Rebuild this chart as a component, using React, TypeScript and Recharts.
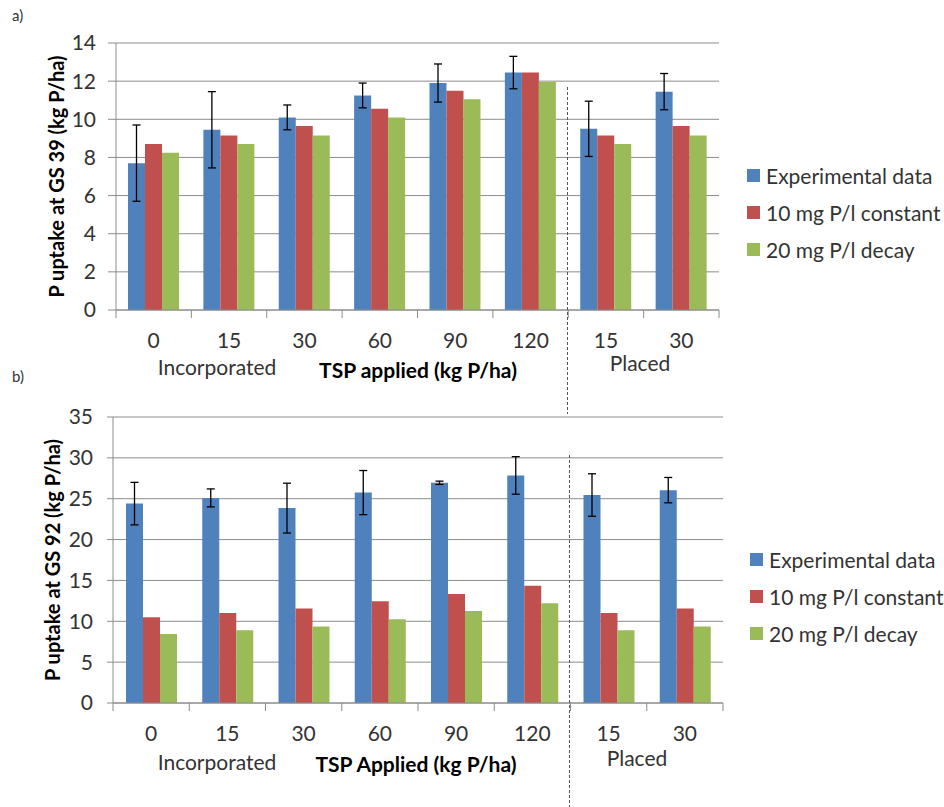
import { BarChart, Bar, XAxis, YAxis, CartesianGrid, ErrorBar, Legend } from 'recharts';

const categories = ['0', '15', '30', '60', '90', '120', '15', '30'];

// a) GS 39
const expGs39 = [7.7, 9.45, 10.1, 11.25, 11.9, 12.45, 9.5, 11.45];
const constGs39 = [8.7, 9.15, 9.65, 10.55, 11.5, 12.45, 9.15, 9.65];
const decayGs39 = [8.25, 8.7, 9.15, 10.1, 11.05, 11.95, 8.7, 9.15];
const errGs39 = [2.0, 2.0, 0.65, 0.65, 1.0, 0.85, 1.45, 0.95];

// b) GS 92
const expGs92 = [24.4, 25.1, 23.85, 25.75, 26.95, 27.85, 25.45, 26.05];
const constGs92 = [10.5, 11.0, 11.55, 12.45, 13.35, 14.35, 11.0, 11.55];
const decayGs92 = [8.45, 8.9, 9.35, 10.25, 11.25, 12.2, 8.9, 9.35];
const errGs92 = [2.6, 1.1, 3.05, 2.7, 0.2, 2.3, 2.6, 1.55];

const ticksGs39 = [0, 2, 4, 6, 8, 10, 12, 14];
const ticksGs92 = [0, 5, 10, 15, 20, 25, 30, 35];

const series = [
  { key: 'exp', name: 'Experimental data', color: '#4F81BD' },
  { key: 'const10', name: '10 mg P/l constant', color: '#C0504D' },
  { key: 'decay20', name: '20 mg P/l decay', color: '#9BBB59' },
];

const FONT = 'Lato, "Open Sans", sans-serif';
const TEXT = '#333333';
const GRID = '#8c8c8c';

const buildRows = (exp: number[], c: number[], d: number[], err: number[]) =>
  categories.map((tsp, i) => ({ tsp, exp: exp[i], const10: c[i], decay20: d[i], err: err[i] }));

const rowsA = buildRows(expGs39, constGs39, decayGs39, errGs39);
const rowsB = buildRows(expGs92, constGs92, decayGs92, errGs92);

function makeTick(band: number) {
  return (props: any) => {
    const { x, y, payload, index } = props;
    return (
      <g>
        <line x1={x - band / 2} y1={y} x2={x - band / 2} y2={y + 8} stroke={GRID} />
        {index === categories.length - 1 && (
          <line x1={x + band / 2} y1={y} x2={x + band / 2} y2={y + 8} stroke={GRID} />
        )}
        <text x={x} y={y + 29} textAnchor="middle" dominantBaseline="central" fontSize={21} fill={TEXT} fontFamily={FONT}>
          {payload.value}
        </text>
      </g>
    );
  };
}

function LegendBox() {
  return (
    <div style={{ fontFamily: FONT, fontSize: 21, color: TEXT }}>
      {series.map((s) => (
        <div key={s.key} style={{ display: 'flex', alignItems: 'center', height: 37 }}>
          <div style={{ width: 13, height: 13, background: s.color, marginRight: 6 }} />
          <span style={{ whiteSpace: 'nowrap' }}>{s.name}</span>
        </div>
      ))}
    </div>
  );
}

function Panel(props: {
  data: any[];
  top: number;
  height: number;
  margin: { top: number; right: number; bottom: number; left: number };
  max: number;
  ticks: number[];
  tickSize: number;
  tickMargin: number;
  title: string;
  titleDx: number;
  legendPos: { left: number; top: number };
}) {
  const { data, top, height, margin, max, ticks, tickSize, tickMargin, title, titleDx, legendPos } = props;
  const band = (944 - margin.left - 40 - margin.right) / categories.length;
  return (
    <div style={{ position: 'absolute', left: 0, top }}>
      <BarChart width={944} height={height} data={data} margin={margin} barGap={0} barSize={17}>
        <CartesianGrid vertical={false} stroke={GRID} />
        <XAxis
          dataKey="tsp"
          height={30}
          interval={0}
          tickSize={0}
          tickMargin={0}
          tickLine={false}
          axisLine={{ stroke: GRID }}
          tick={makeTick(band)}
        />
        <YAxis
          width={40}
          domain={[0, max]}
          ticks={ticks}
          interval={0}
          tickSize={tickSize}
          tickMargin={tickMargin}
          axisLine={{ stroke: GRID }}
          tickLine={{ stroke: GRID }}
          tick={{ fontSize: 21, fill: TEXT, fontFamily: FONT }}
          label={{
            value: title,
            angle: -90,
            position: 'center',
            dx: titleDx,
            style: { fontSize: 20, fontWeight: 700, fill: '#000', fontFamily: FONT },
          }}
        />
        <Legend
          layout="vertical"
          align="center"
          verticalAlign="middle"
          wrapperStyle={{ left: legendPos.left, top: legendPos.top, width: 200 }}
          content={() => <LegendBox />}
        />
        {series.map((s) => (
          <Bar key={s.key} dataKey={s.key} name={s.name} fill={s.color} isAnimationActive={false}>
            {s.key === 'exp' && <ErrorBar dataKey="err" width={4} stroke="#000" strokeWidth={1.3} />}
          </Bar>
        ))}
      </BarChart>
    </div>
  );
}

const groupLabel = (text: string, cx: number, cy: number, bold = false) => (
  <div
    style={{
      position: 'absolute',
      left: cx - 150,
      top: cy - 13,
      width: 300,
      height: 26,
      lineHeight: '26px',
      textAlign: 'center',
      fontFamily: FONT,
      fontSize: 21,
      fontWeight: bold ? 700 : 400,
      color: bold ? '#000' : TEXT,
      whiteSpace: 'nowrap',
    }}
  >
    {text}
  </div>
);

export default function App() {
  return (
    <div style={{ position: 'absolute', left: 0, top: 0, width: 944, height: 807, background: '#fff', overflow: 'hidden' }}>
      <div style={{ position: 'absolute', left: 12, top: 6, fontFamily: FONT, fontSize: 15, color: TEXT }}>a)</div>
      <div style={{ position: 'absolute', left: 12, top: 367, fontFamily: FONT, fontSize: 15, color: TEXT }}>b)</div>

      <Panel
        data={rowsA}
        top={0}
        height={400}
        margin={{ top: 43, right: 225, bottom: 60, left: 76 }}
        max={14}
        ticks={ticksGs39}
        tickSize={8}
        tickMargin={12}
        title="P uptake at GS 39 (kg P/ha)"
        titleDx={-39}
        legendPos={{ left: 747, top: 157 }}
      />
      <Panel
        data={rowsB}
        top={400}
        height={407}
        margin={{ top: 17, right: 221, bottom: 74, left: 73 }}
        max={35}
        ticks={ticksGs92}
        tickSize={6}
        tickMargin={14}
        title="P uptake at GS 92 (kg P/ha)"
        titleDx={-40}
        legendPos={{ left: 750, top: 141 }}
      />

      {groupLabel('Incorporated', 217, 367)}
      {groupLabel('TSP applied (kg P/ha)', 418, 370, true)}
      {groupLabel('Placed', 640, 363)}
      {groupLabel('Incorporated', 217, 762)}
      {groupLabel('TSP Applied (kg P/ha)', 416, 764, true)}
      {groupLabel('Placed', 637, 758)}

      <svg width={944} height={807} style={{ position: 'absolute', left: 0, top: 0, pointerEvents: 'none' }}>
        <line x1={567.5} y1={87} x2={567.5} y2={414} stroke="#555" strokeDasharray="3 2" />
        <line x1={569.5} y1={455} x2={569.5} y2={807} stroke="#555" strokeDasharray="3 2" />
      </svg>
    </div>
  );
}
